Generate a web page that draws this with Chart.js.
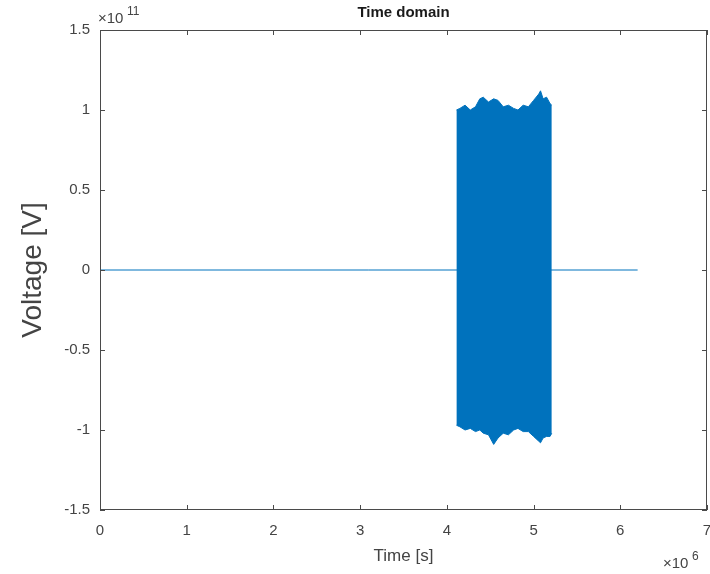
<!DOCTYPE html>
<html>
<head>
<meta charset="UTF-8">
<title>Time domain</title>
<script src="https://cdn.jsdelivr.net/npm/chart.js"></script>
<style>
  html, body { margin: 0; padding: 0; background: #fff; }
  #wrap { position: relative; width: 710px; height: 574px; }
</style>
</head>
<body>
<div id="wrap"><canvas id="timeChart"></canvas></div>
<script>
// x in units of 1e6 s, y in units of 1e11 V
const X_EXP = 6;
const Y_EXP = 11;
const xTicks = [0, 1, 2, 3, 4, 5, 6, 7];
const yTicks = [-1.5, -1, -0.5, 0, 0.5, 1, 1.5];

// flat part of the signal
const baseTime = [0, 6.2];
const baseVolt = [0, 0];

// burst: envelope
const burstTime = [4.11, 4.15, 4.21, 4.27, 4.33, 4.38, 4.42, 4.48, 4.54, 4.59, 4.65, 4.71,
                   4.77, 4.82, 4.88, 4.94, 5.00, 5.06, 5.08, 5.11, 5.15, 5.19, 5.21];
const burstUpper = [1.00, 1.01, 1.03, 1.00, 1.02, 1.07, 1.08, 1.05, 1.07, 1.06, 1.02, 1.03,
                    1.01, 1.00, 1.03, 1.02, 1.06, 1.10, 1.12, 1.07, 1.08, 1.04, 1.03];
const burstLower = [-0.97, -0.98, -1.00, -0.99, -1.01, -1.00, -1.02, -1.03, -1.09, -1.05, -1.02, -1.03,
                    -1.00, -0.99, -1.01, -1.01, -1.04, -1.07, -1.08, -1.05, -1.04, -1.04, -1.02];

const blue = '#0072BD';
const axisColor = '#4a4a4a';
const textColor = '#444444';
const fontFam = "'Liberation Sans', Arial, sans-serif";

const pts = (xs, ys) => xs.map((x, i) => ({ x: x, y: ys[i] }));

// box, inward ticks, x labels, title and exponent labels (MATLAB look)
const matlabBox = {
    id: 'matlabBox',
    afterDraw(chart) {
        const { ctx, chartArea: a, scales } = chart;
        const xs = scales.x, ys = scales.y;
        const tl = 5;
        ctx.save();
        ctx.strokeStyle = axisColor;
        ctx.lineWidth = 1;
        ctx.strokeRect(a.left + 0.5, a.top + 0.5, a.right - a.left - 1, a.bottom - a.top - 1);
        ctx.beginPath();
        xTicks.forEach(v => {
            const px = Math.round(xs.getPixelForValue(v)) + 0.5;
            ctx.moveTo(px, a.bottom); ctx.lineTo(px, a.bottom - tl);
            ctx.moveTo(px, a.top); ctx.lineTo(px, a.top + tl);
        });
        yTicks.forEach(v => {
            const py = Math.round(ys.getPixelForValue(v)) + 0.5;
            ctx.moveTo(a.left, py); ctx.lineTo(a.left + tl, py);
            ctx.moveTo(a.right, py); ctx.lineTo(a.right - tl, py);
        });
        ctx.stroke();

        // x tick labels
        ctx.fillStyle = textColor;
        ctx.font = '15px ' + fontFam;
        ctx.textAlign = 'center';
        ctx.textBaseline = 'middle';
        xTicks.forEach(v => ctx.fillText(String(v), xs.getPixelForValue(v), a.bottom + 21));

        ctx.fillStyle = '#1a1a1a';
        ctx.font = 'bold 15px ' + fontFam;
        ctx.fillText('Time domain', (a.left + a.right) / 2, 13);

        // exponent labels
        ctx.fillStyle = textColor;
        ctx.textAlign = 'left';
        ctx.textBaseline = 'alphabetic';
        ctx.font = '15px ' + fontFam;
        ctx.fillText('\u00d710', a.left - 2, a.top - 7);
        ctx.font = '12px ' + fontFam;
        ctx.fillText(String(Y_EXP), a.left + 27, a.top - 15);
        ctx.font = '15px ' + fontFam;
        ctx.fillText('\u00d710', a.right - 44, a.bottom + 58);
        ctx.font = '12px ' + fontFam;
        ctx.fillText(String(X_EXP), a.right - 15, a.bottom + 50);
        ctx.restore();
    }
};

new Chart(document.getElementById('timeChart'), {
    type: 'line',
    data: {
        datasets: [{
            data: pts(baseTime, baseVolt),
            borderColor: blue,
            borderWidth: 1,
            pointRadius: 0,
            fill: false
        }, {
            data: pts(burstTime, burstUpper),
            borderColor: blue,
            backgroundColor: blue,
            borderWidth: 1,
            pointRadius: 0,
            fill: '+1'
        }, {
            data: pts(burstTime, burstLower),
            borderColor: blue,
            borderWidth: 1,
            pointRadius: 0,
            fill: false
        }]
    },
    options: {
        responsive: true,
        maintainAspectRatio: false,
        animation: false,
        layout: { padding: { top: 30, right: 3, left: 0, bottom: 0 } },
        plugins: {
            legend: { display: false },
            tooltip: { enabled: false }
        },
        scales: {
            x: {
                type: 'linear',
                min: 0,
                max: 7,
                afterBuildTicks: s => { s.ticks = xTicks.map(v => ({ value: v })); },
                afterFit: s => { s.height = 64; },
                grid: { display: false, drawTicks: false },
                border: { display: false },
                ticks: { display: false },
                title: { display: true, text: 'Time [s]', color: textColor, font: { family: fontFam, size: 17 }, padding: { top: 0, bottom: 7 } }
            },
            y: {
                type: 'linear',
                min: -1.5,
                max: 1.5,
                afterBuildTicks: s => { s.ticks = yTicks.map(v => ({ value: v })); },
                afterFit: s => { s.width = 100; },
                grid: { display: false, drawTicks: false },
                border: { display: false },
                ticks: { color: textColor, font: { family: fontFam, size: 15 }, padding: 10, callback: v => String(v) },
                title: { display: true, text: 'Voltage [V]', color: textColor, font: { family: fontFam, size: 28 }, padding: { top: 16, bottom: 0 } }
            }
        }
    },
    plugins: [matlabBox]
});
</script>
</body>
</html>
